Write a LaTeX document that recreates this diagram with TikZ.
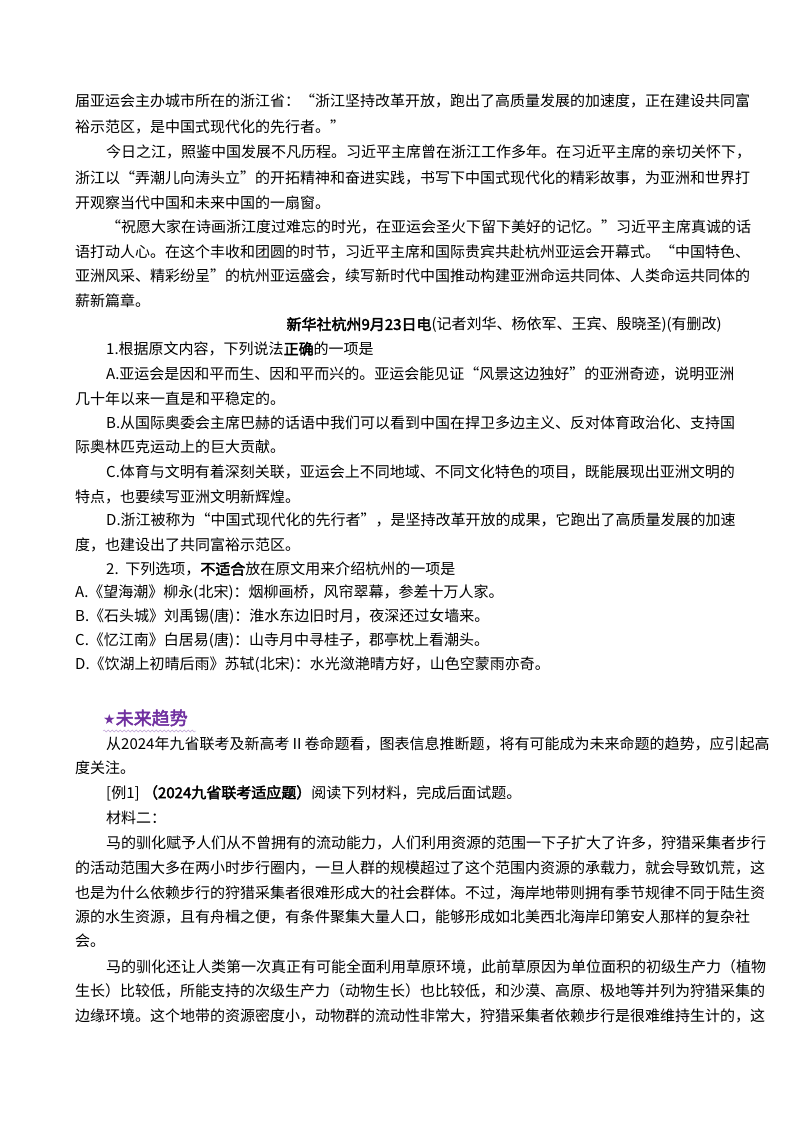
\documentclass[tikz,border=0pt]{standalone}
\usepackage{fontspec}
\usetikzlibrary{decorations.pathmorphing}
\setmainfont{Noto Sans CJK SC}
\newfontfamily\bcjk{Noto Sans CJK SC}[FakeBold=2.5]
\newfontfamily\djvfont{DejaVu Sans}
\newcommand{\B}[1]{{\bcjk #1}}
\XeTeXinterchartokenstate=1
\newcommand{\cg}{\hskip0pt plus 3pt minus 2.4pt\relax}
\XeTeXinterchartoks 1 1 = {\cg}
\XeTeXinterchartoks 1 2 = {\cg}
\XeTeXinterchartoks 1 3 = {\cg}
\XeTeXinterchartoks 2 1 = {\cg}
\XeTeXinterchartoks 3 1 = {\cg}
\XeTeXinterchartoks 3 2 = {\cg}
\XeTeXinterchartoks 3 3 = {\cg}
\XeTeXinterchartoks 0 1 = {\cg}
\XeTeXinterchartoks 1 0 = {\cg}
\XeTeXinterchartoks 0 2 = {\cg}
\XeTeXinterchartoks 3 0 = {\cg}
\definecolor{hdr}{HTML}{7030A0}
\tikzset{ln/.style={anchor=west,inner sep=0pt,font=\fontsize{15}{18}\selectfont}}
\newcommand{\Lj}[4]{\node[ln] (#1) at (#2,#3) {\hbox to \dimexpr722pt-#2pt\relax{#4}};}
\newcommand{\Ln}[4]{\node[ln] (#1) at (#2,#3) {#4};}
\begin{document}
\begin{tikzpicture}[x=1pt,y=-1pt]
\useasboundingbox[fill=white] (0,0) rectangle (800,1132);
\Lj{l1}{75}{101}{届亚运会主办城市所在的浙江省：“浙江坚持改革开放，跑出了高质量发展的加速度，正在建设共同富}
\Ln{l2}{75}{127}{裕示范区，是中国式现代化的先行者。”}
\Lj{l3}{106}{152}{今日之江，照鉴中国发展不凡历程。习近平主席曾在浙江工作多年。在习近平主席的亲切关怀下，}
\Lj{l4}{75}{178}{浙江以“弄潮儿向涛头立”的开拓精神和奋进实践，书写下中国式现代化的精彩故事，为亚洲和世界打}
\Ln{l5}{75}{203}{开观察当代中国和未来中国的一扇窗。}
\Lj{l6}{106}{227}{“祝愿大家在诗画浙江度过难忘的时光，在亚运会圣火下留下美好的记忆。”习近平主席真诚的话}
\Lj{l7}{75}{252}{语打动人心。在这个丰收和团圆的时节，习近平主席和国际贵宾共赴杭州亚运会开幕式。“中国特色、}
\Lj{l8}{75}{276}{亚洲风采、精彩纷呈”的杭州亚运盛会，续写新时代中国推动构建亚洲命运共同体、人类命运共同体的}
\Ln{l9}{75}{301}{薪新篇章。}
\node[ln,anchor=east] (l10) at (722,325) {\B{新华社杭州9月23日电}(记者刘华、杨依军、王宾、殷晓圣)(有删改)};
\Ln{l11}{106}{349}{1.根据原文内容，下列说法\B{正确}的一项是}
\Lj{l12}{106}{374}{A.亚运会是因和平而生、因和平而兴的。亚运会能见证“风景这边独好”的亚洲奇迹，说明亚洲}
\Ln{l13}{75}{399}{几十年以来一直是和平稳定的。}
\Lj{l14}{106}{423}{B.从国际奥委会主席巴赫的话语中我们可以看到中国在捍卫多边主义、反对体育政治化、支持国}
\Ln{l15}{75}{447}{际奥林匹克运动上的巨大贡献。}
\Lj{l16}{106}{472}{C.体育与文明有着深刻关联，亚运会上不同地域、不同文化特色的项目，既能展现出亚洲文明的}
\Ln{l17}{75}{497}{特点，也要续写亚洲文明新辉煌。}
\Lj{l18}{106}{520}{D.浙江被称为“中国式现代化的先行者”，是坚持改革开放的成果，它跑出了高质量发展的加速}
\Ln{l19}{75}{545}{度，也建设出了共同富裕示范区。}
\Ln{l20}{106}{569}{2.\ \ 下列选项，\B{不适合}放在原文用来介绍杭州的一项是}
\Ln{l21}{75}{593}{A.《望海潮》柳永(北宋)：烟柳画桥，风帘翠幕，参差十万人家。}
\Ln{l22}{75}{617}{B.《石头城》刘禹锡(唐)：淮水东边旧时月，夜深还过女墙来。}
\Ln{l23}{75}{641}{C.《忆江南》白居易(唐)：山寺月中寻桂子，郡亭枕上看潮头。}
\Ln{l24}{75}{665}{D.《饮湖上初晴后雨》苏轼(北宋)：水光潋滟晴方好，山色空蒙雨亦奇。}
\node[ln,text=hdr,font=\fontsize{18}{20}\selectfont] (hd) at (103,718) {{\djvfont\fontsize{14}{16}\selectfont ★}\B{未来趋势}};
\draw[hdr!45,decorate,decoration={snake,amplitude=1pt,segment length=4pt}] (103,731) -- (196,731);
\Lj{l26}{106}{744}{从2024年九省联考及新高考Ⅱ卷命题看，图表信息推断题，将有可能成为未来命题的趋势，应引起高}
\Ln{l27}{75}{768}{度关注。}
\Ln{l28}{106}{793}{[例1]\ \B{（2024九省联考适应题）}阅读下列材料，完成后面试题。}
\Ln{l29}{106}{818}{材料二：}
\Lj{l30}{106}{843}{马的驯化赋予人们从不曾拥有的流动能力，人们利用资源的范围一下子扩大了许多，狩猎采集者步行}
\Lj{l31}{75}{868}{的活动范围大多在两小时步行圈内，一旦人群的规模超过了这个范围内资源的承载力，就会导致饥荒，这}
\Lj{l32}{75}{893}{也是为什么依赖步行的狩猎采集者很难形成大的社会群体。不过，海岸地带则拥有季节规律不同于陆生资}
\Ln{l33}{75}{917}{源的水生资源，且有舟楫之便，有条件聚集大量人口，能够形成如北美西北海岸印第安人那样的复杂社}
\Ln{l34}{75}{941}{会。}
\Lj{l35}{106}{967}{马的驯化还让人类第一次真正有可能全面利用草原环境，此前草原因为单位面积的初级生产力（植物}
\Lj{l36}{75}{991}{生长）比较低，所能支持的次级生产力（动物生长）也比较低，和沙漠、高原、极地等并列为狩猎采集的}
\Lj{l37}{75}{1016}{边缘环境。这个地带的资源密度小，动物群的流动性非常大，狩猎采集者依赖步行是很难维持生计的，这}
\end{tikzpicture}
\end{document}
